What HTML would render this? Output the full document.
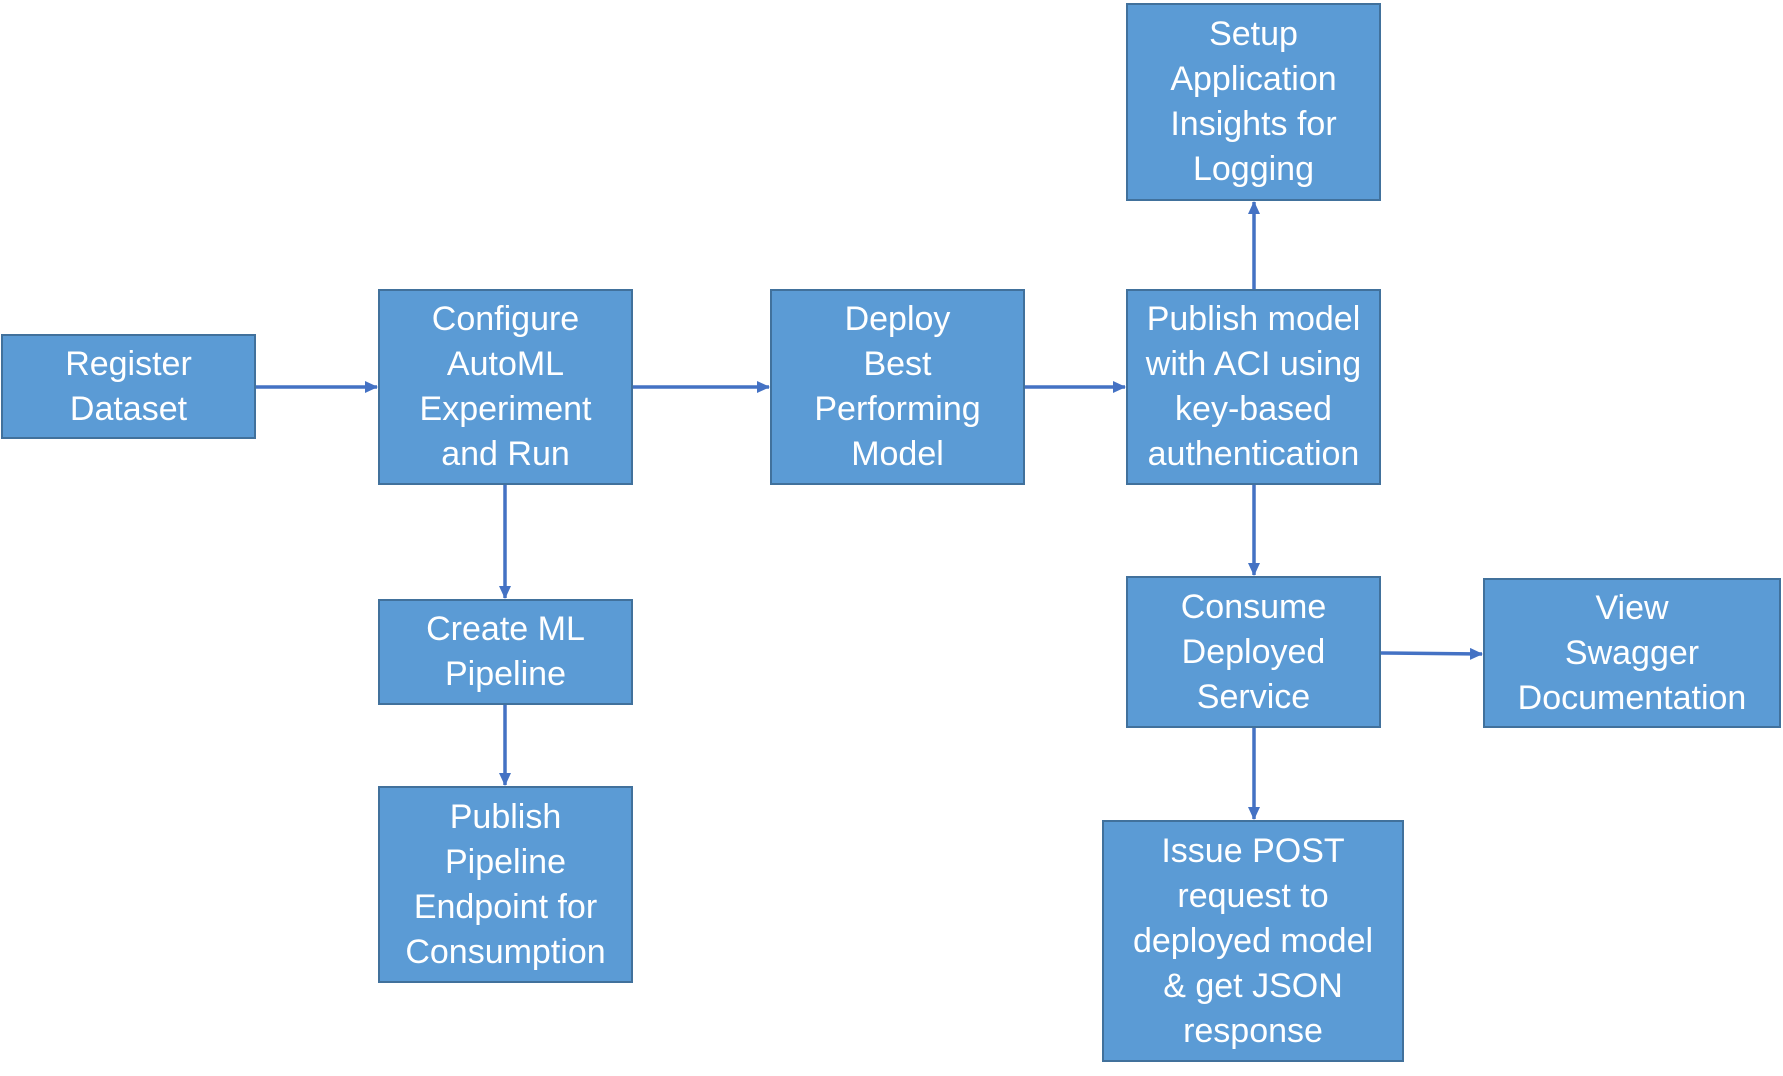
<!DOCTYPE html>
<html><head><meta charset="utf-8"><style>
html,body{margin:0;padding:0;background:#fff;width:1783px;height:1076px;overflow:hidden;position:relative}
.b{position:absolute;box-sizing:border-box;background:#5B9BD5;border:2px solid #41719C;color:#fff;
font-family:"Liberation Sans",sans-serif;font-size:34px;line-height:45px;text-align:center;
display:flex;flex-direction:column;justify-content:center;align-items:center;white-space:nowrap}
svg{position:absolute;left:0;top:0}
</style></head><body>
<svg width="1783" height="1076">
<defs><marker id="a" markerWidth="13" markerHeight="12" refX="12" refY="6" orient="auto" markerUnits="userSpaceOnUse"><path d="M0,0 L13,6 L0,12 z" fill="#4472C4"/></marker></defs>
<g stroke="#4472C4" stroke-width="3.5" fill="none" marker-end="url(#a)">
<line x1="256" y1="387" x2="377" y2="387"/>
<line x1="633" y1="387" x2="769" y2="387"/>
<line x1="1025" y1="387" x2="1125" y2="387"/>
<line x1="1254" y1="289" x2="1254" y2="202"/>
<line x1="505" y1="485" x2="505" y2="598"/>
<line x1="505" y1="705" x2="505" y2="785"/>
<line x1="1254" y1="485" x2="1254" y2="575"/>
<line x1="1381" y1="653" x2="1482" y2="654"/>
<line x1="1254" y1="728" x2="1254" y2="819"/>
</g></svg>
<div class="b" style="left:1px;top:334px;width:255px;height:105px">Register<br>Dataset</div>
<div class="b" style="left:378px;top:289px;width:255px;height:196px">Configure<br>AutoML<br>Experiment<br>and Run</div>
<div class="b" style="left:770px;top:289px;width:255px;height:196px">Deploy<br>Best<br>Performing<br>Model</div>
<div class="b" style="left:1126px;top:289px;width:255px;height:196px">Publish model<br>with ACI using<br>key-based<br>authentication</div>
<div class="b" style="left:1126px;top:3px;width:255px;height:198px">Setup<br>Application<br>Insights for<br>Logging</div>
<div class="b" style="left:378px;top:599px;width:255px;height:106px">Create ML<br>Pipeline</div>
<div class="b" style="left:378px;top:786px;width:255px;height:197px">Publish<br>Pipeline<br>Endpoint for<br>Consumption</div>
<div class="b" style="left:1126px;top:576px;width:255px;height:152px">Consume<br>Deployed<br>Service</div>
<div class="b" style="left:1483px;top:578px;width:298px;height:150px">View<br>Swagger<br>Documentation</div>
<div class="b" style="left:1102px;top:820px;width:302px;height:242px">Issue POST<br>request to<br>deployed model<br>&amp; get JSON<br>response</div>
</body></html>
